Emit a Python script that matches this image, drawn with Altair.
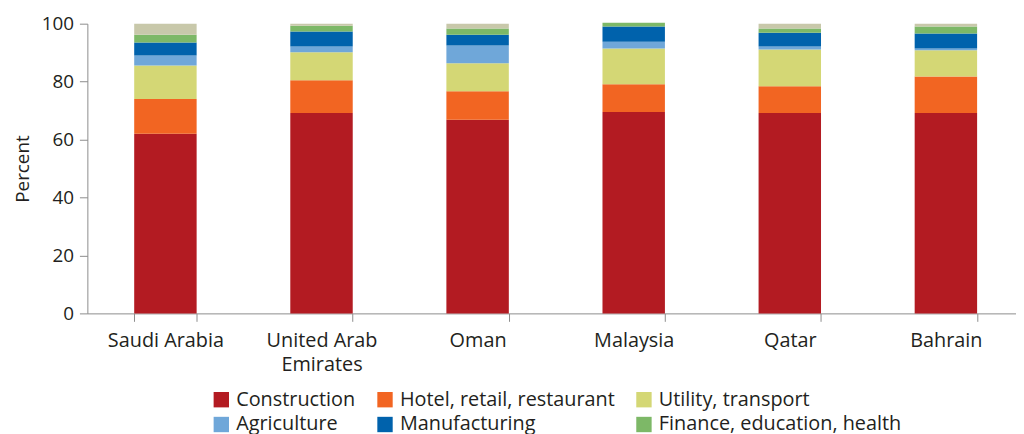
import altair as alt
import pandas as pd

countries = ["Saudi Arabia", "United Arab Emirates", "Oman", "Malaysia", "Qatar", "Bahrain"]
sectors = ["Construction", "Hotel, retail, restaurant", "Utility, transport",
           "Agriculture", "Manufacturing", "Finance, education, health", "Other"]
colors = ["#B31B22", "#F26522", "#D4D775", "#6FA7D9", "#0062AC", "#7DB867", "#C8C8AA"]

construction = [62.0, 69.2, 66.8, 69.5, 69.2, 69.2]
hotel = [12.0, 11.3, 9.9, 9.6, 9.2, 12.6]
utility = [11.6, 9.6, 9.6, 12.3, 12.7, 9.0]
agriculture = [3.4, 2.0, 6.2, 2.4, 1.0, 0.6]
manufacturing = [4.5, 5.2, 3.7, 5.2, 4.8, 5.2]
finance = [2.7, 2.0, 2.1, 1.3, 1.4, 2.4]
other = [3.8, 0.7, 1.7, 0.0, 1.7, 1.0]

series = [construction, hotel, utility, agriculture, manufacturing, finance, other]
rows = []
for si, (s, vals) in enumerate(zip(sectors, series)):
    for c, v in zip(countries, vals):
        rows.append({"country": c, "sector": s, "value": v, "order": si})
df = pd.DataFrame(rows)

FONT = "Open Sans"
TXT = "#231F20"
AX = "#8C8C8C"

chart = alt.Chart(df).mark_bar().encode(
    x=alt.X("country:N", sort=countries, title=None,
            scale=alt.Scale(paddingInner=0.6, paddingOuter=0.3, range=[0, 944]),
            axis=alt.Axis(labelAngle=0, tickBand="extent", tickSize=8, labelPadding=9,
                          domainColor=AX, tickColor=AX, labelColor=TXT, labelFontSize=20,
                          labelFont=FONT, labelLineHeight=25,
                          labelExpr="datum.label == 'United Arab Emirates' ? ['United Arab', 'Emirates'] : datum.label")),
    y=alt.Y("value:Q", stack="zero", title="Percent",
            scale=alt.Scale(domain=[0, 100], nice=False),
            axis=alt.Axis(values=[0, 20, 40, 60, 80, 100], grid=False, tickSize=8, labelPadding=6,
                          domainColor=AX, tickColor=AX, labelColor=TXT, labelFontSize=19,
                          labelFont=FONT, titleFont=FONT, titleFontSize=19, titleFontWeight="normal",
                          titleColor=TXT, titlePadding=9)),
    color=alt.Color("sector:N", sort=sectors,
                    scale=alt.Scale(domain=sectors, range=colors),
                    legend=alt.Legend(title=None, orient="none", legendX=125, legendY=369,
                                      direction="horizontal", columns=3, columnPadding=19,
                                      rowPadding=5, symbolType="square", symbolSize=240,
                                      symbolStrokeWidth=0, labelFontSize=20, labelFont=FONT,
                                      labelColor=TXT, symbolOpacity=1, labelLimit=400,
                                      labelOffset=5)),
    order=alt.Order("order:Q", sort="ascending"),
).properties(
    width=928, height=292,
    autosize=alt.AutoSizeParams(type="none"),
    padding={"top": 14, "left": 80, "right": 8, "bottom": 150},
).configure_view(stroke=None)

chart.save("out.html", embed_options={"renderer": "svg", "actions": False})
